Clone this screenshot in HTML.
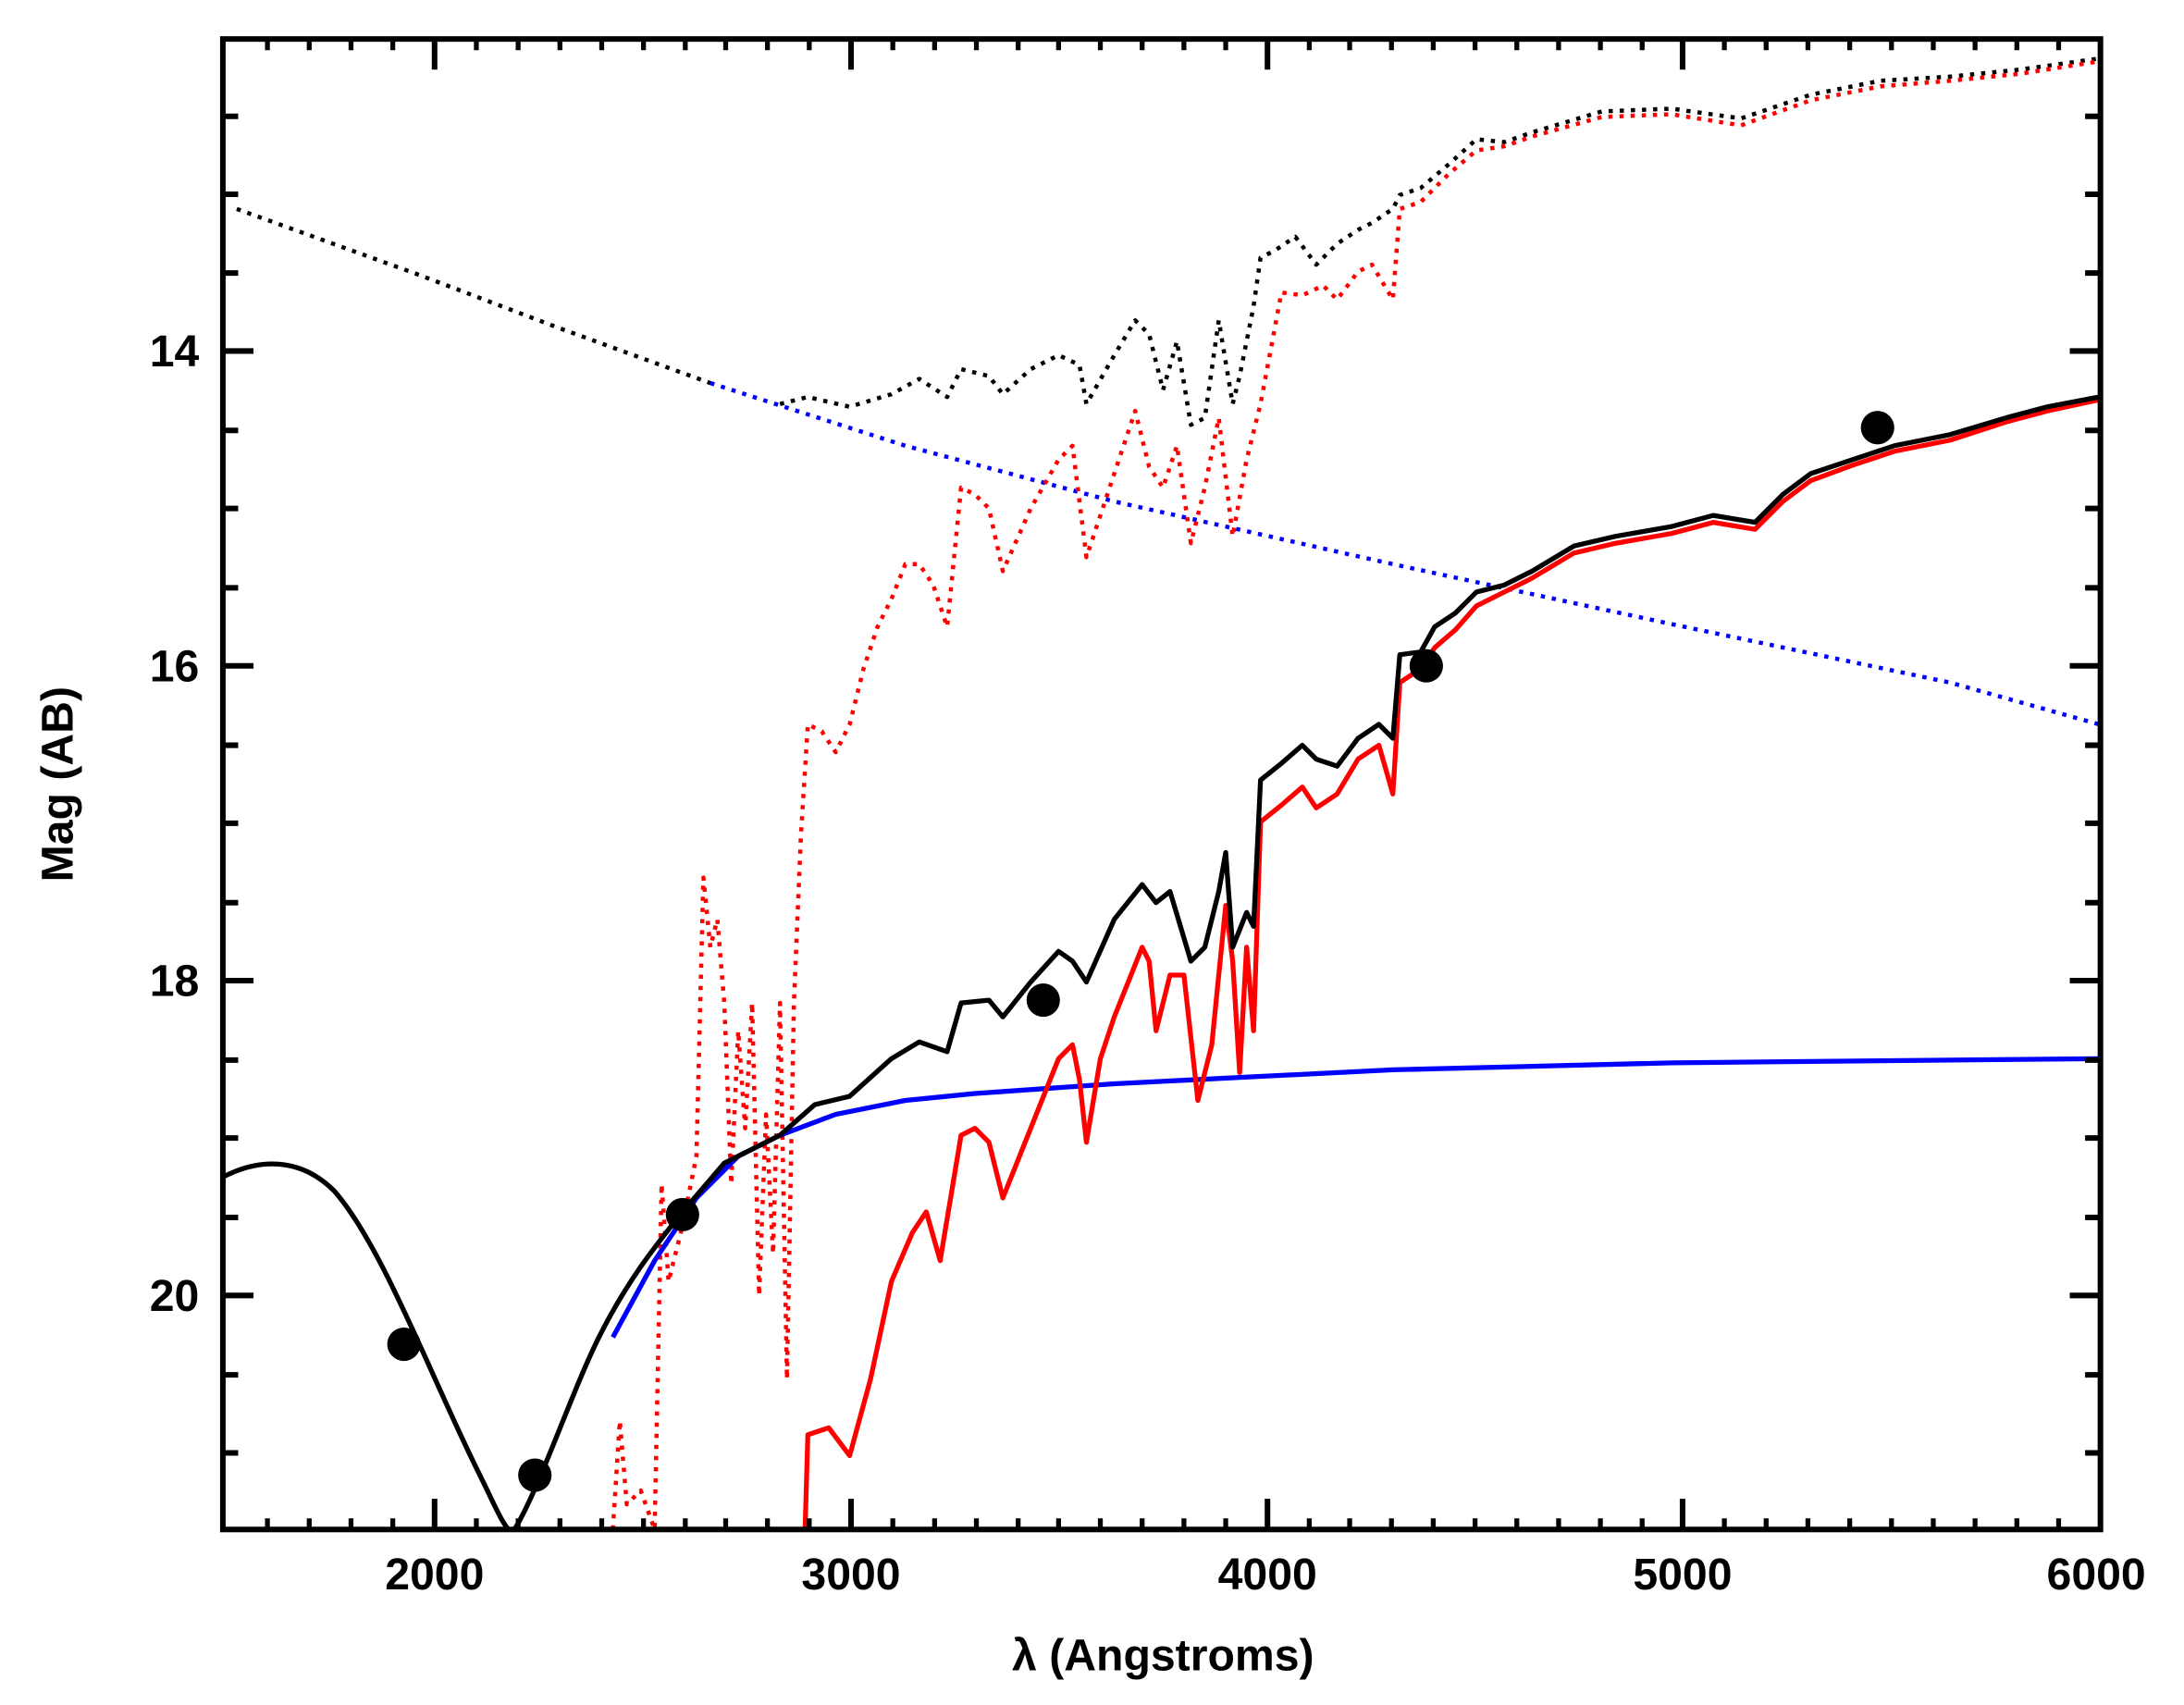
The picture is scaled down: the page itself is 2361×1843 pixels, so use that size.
<!DOCTYPE html>
<html><head><meta charset="utf-8"><style>html,body{margin:0;padding:0;background:#fff}svg{display:block}</style></head>
<body>
<svg width="2361" height="1843" viewBox="0 0 1568 1224" preserveAspectRatio="none" xmlns="http://www.w3.org/2000/svg">
<rect width="1568" height="1224" fill="#fff"/>
<g fill="none" stroke-linejoin="round">
<polyline stroke="#000" stroke-width="3" stroke-dasharray="3,5" points="170,150 300,197 400,235 510,275"/>
<polyline stroke="#00f" stroke-width="3" stroke-dasharray="3,5" points="510,275 650,320 800,360 1000,405 1200,448 1400,490 1507,520"/>
<polyline stroke="#000" stroke-width="3" stroke-dasharray="3,5" points="560,290 580,285 610,292 640,283 660,272 680,285 690,265 710,270 720,283 740,265 760,255 775,262 780,290 800,255 815,230 825,240 835,280 845,245 855,305 865,300 875,230 885,290 890,270 900,220 905,185 915,180 930,170 945,190 960,175 975,165 985,160 1000,150 1005,140 1020,135 1040,118 1060,100 1080,102 1100,95 1150,80 1200,78 1250,85 1300,68 1350,58 1400,55 1450,50 1507,42"/>
<polyline stroke="#f00" stroke-width="3" stroke-dasharray="3,5" points="440,1098 445,1020 450,1080 460,1070 470,1098 475,850 480,920 490,880 500,830 505,630 510,680 515,660 520,720 525,850 530,740 535,810 540,720 545,930 550,800 555,900 560,720 565,990 570,720 575,600 580,520 590,525 600,540 610,520 620,480 630,450 640,430 650,405 660,405 670,420 680,450 690,350 700,355 710,365 720,410 740,365 760,330 770,320 780,400 800,340 815,295 825,335 835,350 845,320 855,390 865,350 875,300 885,385 895,330 905,290 920,210 935,212 950,205 960,215 975,195 985,190 1000,215 1005,150 1020,145 1040,125 1060,108 1080,105 1100,98 1150,84 1200,82 1250,90 1300,72 1350,62 1400,58 1450,53 1507,44"/>
<polyline stroke="#00f" stroke-width="3.5" points="440,960 470,905 500,860 530,830 560,815 600,800 650,790 700,785 800,778 900,773 1000,768 1200,763 1507,760"/>
<polyline stroke="#f00" stroke-width="3.5" points="578,1098 580,1030 595,1025 610,1045 625,990 640,920 655,885 665,870 675,905 690,815 700,810 710,820 720,860 740,810 760,760 770,750 775,775 780,820 790,760 800,730 820,680 825,690 830,740 840,700 850,700 860,790 870,750 880,650 885,690 890,770 895,680 900,740 905,590 920,578 935,565 945,580 960,570 975,545 990,535 1000,570 1005,490 1020,480 1030,465 1045,452 1060,435 1080,425 1100,415 1130,397 1160,390 1200,383 1230,375 1260,380 1280,360 1300,345 1330,334 1360,324 1400,316 1440,303 1470,295 1507,287"/>
<path stroke="#000" stroke-width="3.5" d="M160,845 C185,832 215,830 240,855 C275,895 310,990 345,1060 C355,1080 362,1098 368,1100 C385,1075 410,1000 430,960 C450,920 470,895 490,870 L520,835 L560,815"/>
<polyline stroke="#000" stroke-width="3.5" points="560,815 585,793 610,787 640,760 660,748 680,755 690,720 710,718 720,730 740,705 760,683 770,690 780,705 800,660 820,635 830,648 840,640 855,690 865,680 875,640 880,612 885,680 895,655 900,665 905,560 920,548 935,535 945,545 960,550 975,530 990,520 1000,530 1005,470 1020,468 1030,450 1045,440 1060,425 1080,420 1100,410 1130,392 1160,385 1200,378 1230,370 1260,375 1280,355 1300,340 1330,330 1360,320 1400,312 1440,300 1470,292 1507,285"/>
</g>
<g fill="#000">
<circle cx="290" cy="965" r="12"/><circle cx="384" cy="1059" r="12"/><circle cx="490" cy="872" r="12"/>
<circle cx="749" cy="718" r="12"/><circle cx="1024" cy="478" r="12"/><circle cx="1348" cy="307" r="12"/>
</g>
<rect x="0" y="1099" width="1568" height="125" fill="#fff"/>
<rect x="0" y="0" width="159" height="1224" fill="#fff"/>
<rect x="160" y="28" width="1348" height="1070" fill="none" stroke="#000" stroke-width="4"/>
<g stroke="#000" stroke-width="4">
<path d="M160,252h22M160,478h22M160,704h22M160,930h22M1508,252h-22M1508,478h-22M1508,704h-22M1508,930h-22"/>
<path d="M160,83.5h11M160,139.5h11M160,196h11M160,309h11M160,365h11M160,422h11M160,535h11M160,591h11M160,648h11M160,761h11M160,817h11M160,874h11M160,987h11M160,1043h11
M1508,83.5h-11M1508,139.5h-11M1508,196h-11M1508,309h-11M1508,365h-11M1508,422h-11M1508,535h-11M1508,591h-11M1508,648h-11M1508,761h-11M1508,817h-11M1508,874h-11M1508,987h-11M1508,1043h-11"/>
<path d="M312,1098v-22M611,1098v-22M910,1098v-22M1208,1098v-22M312,28v22M611,28v22M910,28v22M1208,28v22"/>
</g>
<g stroke="#000" stroke-width="3.5">
<path d="M192,1098v-8M222,1098v-8M252,1098v-8M282,1098v-8M342,1098v-8M372,1098v-8M402,1098v-8M432,1098v-8M462,1098v-8M492,1098v-8M521,1098v-8M551,1098v-8M581,1098v-8M641,1098v-8M671,1098v-8M701,1098v-8M731,1098v-8M760,1098v-8M790,1098v-8M820,1098v-8M850,1098v-8M880,1098v-8M940,1098v-8M969,1098v-8M999,1098v-8M1029,1098v-8M1059,1098v-8M1089,1098v-8M1119,1098v-8M1149,1098v-8M1179,1098v-8M1238,1098v-8M1268,1098v-8M1298,1098v-8M1328,1098v-8M1358,1098v-8M1388,1098v-8M1418,1098v-8M1448,1098v-8M1478,1098v-8"/>
<path d="M192,28v8M222,28v8M252,28v8M282,28v8M342,28v8M372,28v8M402,28v8M432,28v8M462,28v8M492,28v8M521,28v8M551,28v8M581,28v8M641,28v8M671,28v8M701,28v8M731,28v8M760,28v8M790,28v8M820,28v8M850,28v8M880,28v8M940,28v8M969,28v8M999,28v8M1029,28v8M1059,28v8M1089,28v8M1119,28v8M1149,28v8M1179,28v8M1238,28v8M1268,28v8M1298,28v8M1328,28v8M1358,28v8M1388,28v8M1418,28v8M1448,28v8M1478,28v8"/>
</g>
<g font-family="Liberation Sans, sans-serif" font-weight="bold" font-size="32" fill="#000">
<g text-anchor="end"><text x="143" y="263">14</text><text x="143" y="489">16</text><text x="143" y="715">18</text><text x="143" y="941">20</text></g>
<g text-anchor="middle"><text x="312" y="1141">2000</text><text x="611" y="1141">3000</text><text x="910" y="1141">4000</text><text x="1208" y="1141">5000</text><text x="1505" y="1141">6000</text>
<text x="835" y="1199">λ (Angstroms)</text>
<text transform="translate(52,563) rotate(-90)">Mag (AB)</text></g>
</g>
</svg>
</body></html>
